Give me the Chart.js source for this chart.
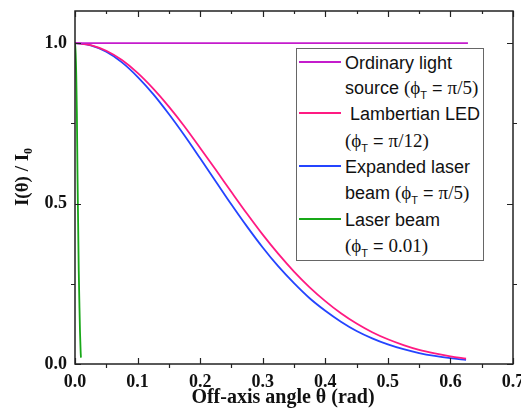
<!DOCTYPE html>
<html>
<head>
<meta charset="utf-8">
<script src="https://cdn.jsdelivr.net/npm/chart.js@4.4.1/dist/chart.umd.min.js"></script>
<style>
  html, body { margin: 0; padding: 0; background: #fff; }
  #wrap { position: relative; width: 521px; height: 413px; }
  #legend {
    position: absolute; left: 296px; top: 48px; width: 188px; height: 213px;
    border: 1px solid #666; background: #fff; box-sizing: border-box;
    font-family: "Liberation Sans", Arial, sans-serif; font-size: 18px; color: #111;
  }
  .row { position: absolute; left: 48px; white-space: nowrap; line-height: 22px; height: 22px; }
  .swatch { position: absolute; left: 2px; width: 42px; height: 2px; }
  .sf { font-family: "Liberation Serif", "Times New Roman", serif; font-size: 19px; }
  sub { font-size: 11px; vertical-align: -5px; line-height: 0; }
</style>
</head>
<body>
<div id="wrap">
  <canvas id="chart" width="521" height="413"></canvas>
  <div id="legend"></div>
</div>
<script>
// off-axis angle (rad)
const theta = [0, 0.025, 0.05, 0.075, 0.1, 0.125, 0.15, 0.175, 0.2, 0.225, 0.25, 0.275, 0.3,
  0.325, 0.35, 0.375, 0.4, 0.425, 0.45, 0.475, 0.5, 0.525, 0.55, 0.575, 0.6, 0.625];

// I(theta)/I0
const lambertianLED = [1.000, 0.994, 0.976, 0.947, 0.907, 0.858, 0.802, 0.740, 0.673, 0.605, 0.536, 0.468, 0.403,
  0.343, 0.288, 0.239, 0.196, 0.158, 0.126, 0.099, 0.077, 0.059, 0.044, 0.033, 0.024, 0.017];
const expandedLaser = [1.000, 0.993, 0.973, 0.940, 0.895, 0.841, 0.779, 0.712, 0.641, 0.569, 0.497, 0.428, 0.363,
  0.304, 0.252, 0.205, 0.166, 0.132, 0.103, 0.080, 0.061, 0.046, 0.034, 0.025, 0.018, 0.013];

const ordinaryX = [0, 0.628];
const ordinaryY = [1.0, 1.0];

const laserX = [0, 0.001, 0.002, 0.003, 0.004, 0.005, 0.006, 0.007, 0.008, 0.009, 0.0095];
const laserY = [1.0, 0.97, 0.9, 0.78, 0.59, 0.44, 0.29, 0.19, 0.1, 0.04, 0.02];

const xTicks = [0, 0.1, 0.2, 0.3, 0.4, 0.5, 0.6, 0.7];
const xMinor = [0.05, 0.15, 0.25, 0.35, 0.45, 0.55, 0.65];
const yTicks = [0, 0.5, 1.0];
const yMinor = [0.25, 0.75];

const seriesNames = [
  ["Ordinary light", 'source <span class="sf">(&#x3d5;</span><sub>T</sub> = <span class="sf">&pi;/5)</span>'],
  ["&nbsp;Lambertian LED", '<span class="sf">(&#x3d5;</span><sub>T</sub> = <span class="sf">&pi;/12)</span>'],
  ["Expanded laser", 'beam <span class="sf">(&#x3d5;</span><sub>T</sub> = <span class="sf">&pi;/5)</span>'],
  ["Laser beam", '<span class="sf">(&#x3d5;</span><sub>T</sub> = <span class="sf">0.01)</span>']
];
const seriesColors = ["#c41ccc", "#ff1a82", "#2444ff", "#18a818"];

function pts(xs, ys) {
  return xs.map((x, i) => ({ x: x, y: ys[i] }));
}

const serif = "'Liberation Serif', 'Times New Roman', serif";

// ticks and frame like the original plot
const framePlugin = {
  id: "frame",
  afterDraw(chart) {
    const c = chart.ctx;
    const a = chart.chartArea;
    const xs = chart.scales.x, ys = chart.scales.y;
    c.save();
    c.strokeStyle = "#222";
    c.lineWidth = 1.5;
    c.strokeRect(a.left, a.top, a.right - a.left, a.bottom - a.top);
    c.lineWidth = 1.2;
    c.beginPath();
    xTicks.forEach((v) => {
      const px = Math.round(xs.getPixelForValue(v)) + 0.5;
      c.moveTo(px, a.bottom); c.lineTo(px, a.bottom - 6);
      c.moveTo(px, a.top); c.lineTo(px, a.top + 6);
    });
    xMinor.forEach((v) => {
      const px = Math.round(xs.getPixelForValue(v)) + 0.5;
      c.moveTo(px, a.bottom); c.lineTo(px, a.bottom + 4);
      c.moveTo(px, a.top); c.lineTo(px, a.top + 3);
    });
    yTicks.forEach((v) => {
      const py = Math.round(ys.getPixelForValue(v)) + 0.5;
      c.moveTo(a.left, py); c.lineTo(a.left + 6, py);
      c.moveTo(a.right, py); c.lineTo(a.right - 6, py);
    });
    yMinor.forEach((v) => {
      const py = Math.round(ys.getPixelForValue(v)) + 0.5;
      c.moveTo(a.left, py); c.lineTo(a.left - 4, py);
      c.moveTo(a.right, py); c.lineTo(a.right + 4, py);
    });
    c.stroke();

    // axis titles
    c.fillStyle = "#111";
    c.font = "bold 20px " + serif;
    c.textAlign = "center";
    c.textBaseline = "middle";
    c.fillText("Off-axis angle \u03b8 (rad)", 283, 398);

    c.translate(23, 177);
    c.rotate(-Math.PI / 2);
    c.font = "bold 19px " + serif;
    const main = "I(\u03b8) / I";
    const w = c.measureText(main).width;
    c.font = "bold 12px " + serif;
    const ws = c.measureText("0").width;
    const start = -(w + ws) / 2;
    c.textAlign = "left";
    c.font = "bold 19px " + serif;
    c.fillText(main, start, 0);
    c.font = "bold 12px " + serif;
    c.fillText("0", start + w, 6);
    c.restore();
  }
};

new Chart(document.getElementById("chart"), {
  type: "scatter",
  data: {
    datasets: [
      { label: "Ordinary light source", data: pts(ordinaryX, ordinaryY), borderColor: seriesColors[0] },
      { label: "Lambertian LED", data: pts(theta, lambertianLED), borderColor: seriesColors[1] },
      { label: "Expanded laser beam", data: pts(theta, expandedLaser), borderColor: seriesColors[2] },
      { label: "Laser beam", data: pts(laserX, laserY), borderColor: seriesColors[3] }
    ].map((d) => Object.assign(d, {
      showLine: true, pointRadius: 0, borderWidth: 1.8, cubicInterpolationMode: "monotone"
    }))
  },
  options: {
    responsive: false,
    animation: false,
    layout: { padding: { top: 11, right: 8, left: 0, bottom: 0 } },
    plugins: { legend: { display: false }, tooltip: { enabled: false } },
    scales: {
      x: {
        type: "linear", min: 0, max: 0.7,
        grid: { display: false, drawTicks: false },
        border: { display: false },
        ticks: {
          stepSize: 0.1, includeBounds: false, padding: 8, maxRotation: 0,
          color: "#111", font: { family: serif, size: 18, weight: "bold" },
          callback: (v) => v.toFixed(1)
        },
        afterFit: (s) => { s.height = 49; s.paddingLeft = 0; s.paddingRight = 0; }
      },
      y: {
        type: "linear", min: 0, max: 1.1,
        grid: { display: false, drawTicks: false },
        border: { display: false },
        ticks: {
          stepSize: 0.5, includeBounds: false, padding: 8,
          color: "#111", font: { family: serif, size: 18, weight: "bold" },
          callback: (v) => v.toFixed(1)
        },
        afterFit: (s) => { s.width = 75; s.paddingTop = 0; s.paddingBottom = 0; }
      }
    }
  },
  plugins: [framePlugin]
});

// legend box
const legend = document.getElementById("legend");
const rowTops = [3, 28, 54, 81, 107, 133, 160, 186];
seriesNames.forEach((lines, i) => {
  const sw = document.createElement("div");
  sw.className = "swatch";
  sw.style.background = seriesColors[i];
  sw.style.top = (rowTops[i * 2] + 9) + "px";
  legend.appendChild(sw);
  lines.forEach((txt, j) => {
    const r = document.createElement("div");
    r.className = "row";
    r.style.top = rowTops[i * 2 + j] + "px";
    r.innerHTML = txt;
    legend.appendChild(r);
  });
});
</script>
</body>
</html>
